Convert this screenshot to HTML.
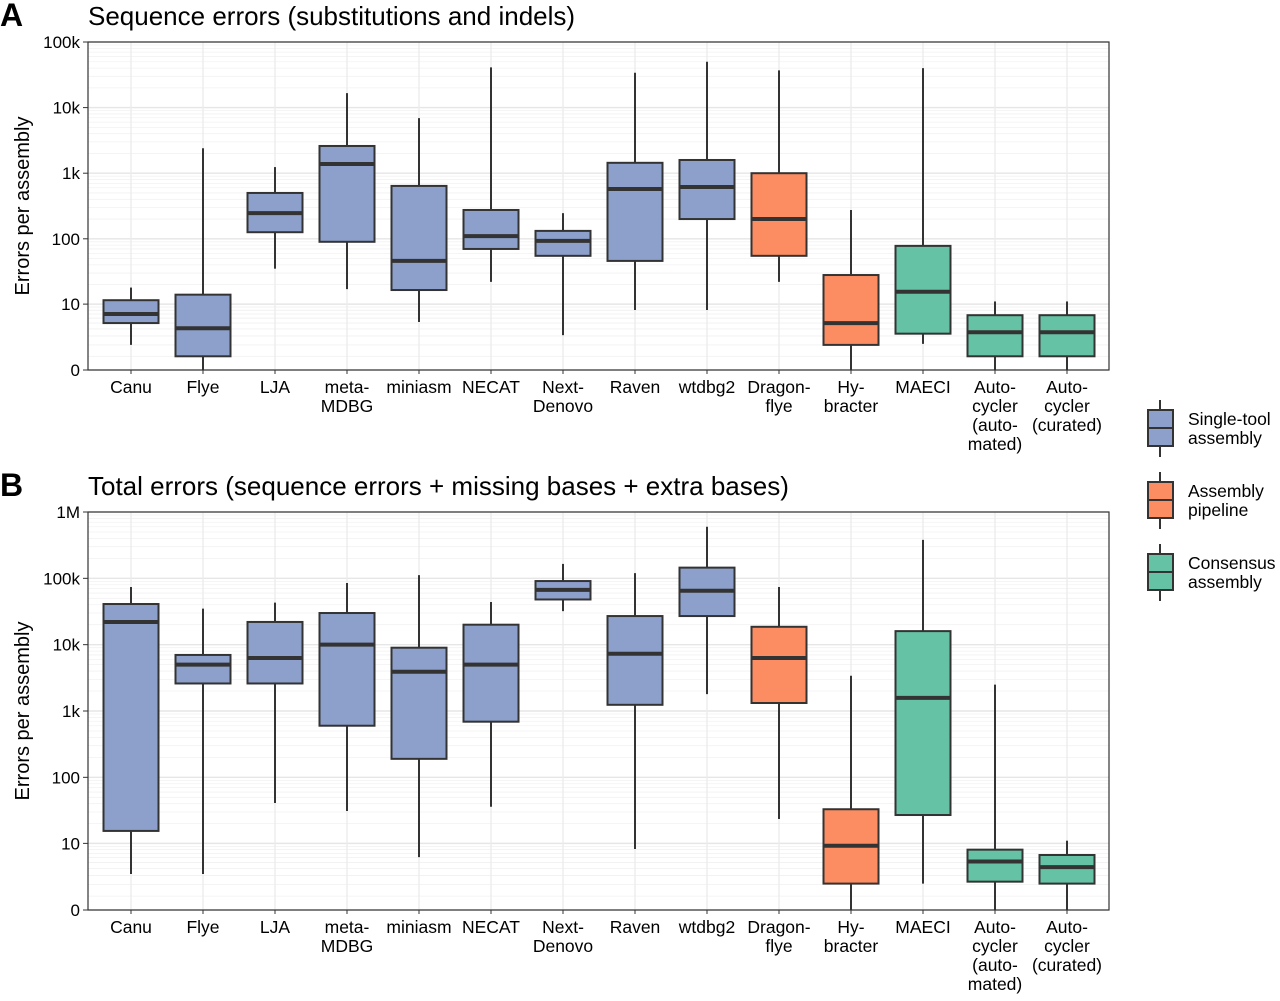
<!DOCTYPE html>
<html><head><meta charset="utf-8">
<style>
body{margin:0;background:#fff;}
svg text{font-family:"Liberation Sans",Arial,sans-serif;fill:#000;}
</style></head>
<body>
<svg id="chart" width="1280" height="996" viewBox="0 0 1280 996" xmlns="http://www.w3.org/2000/svg"></svg>
<script>
const categories=["Canu","Flye","LJA","meta-|MDBG","miniasm","NECAT","Next-|Denovo","Raven","wtdbg2","Dragon-|flye","Hy-|bracter","MAECI","Auto-|cycler|(auto-|mated)","Auto-|cycler|(curated)"];
const groups=[0,0,0,0,0,0,0,0,0,1,1,2,2,2];
const groupNames=["Single-tool|assembly","Assembly|pipeline","Consensus|assembly"];
const groupColors=["#8DA0CB","#FC8D62","#66C2A5"];
// [low whisker, q1, median, q3, high whisker]
const seqErrors=[
[2,5,7,11.5,18],[0,1,4.1,14,2400],[35,126,246,500,1240],[17,90,1380,2600,16600],
[5.2,16.5,46,640,6900],[22,70,110,275,41000],[3.1,55,93,132,246],[8.1,46,575,1440,34000],
[8.1,200,615,1590,50000],[22,55,200,1000,37000],[0,2,5,28,275],[2.1,3.3,15.5,78,40000],
[0,1,3.5,6.7,11],[0,1,3.5,6.7,11]];
const totErrors=[
[3.2,15.5,22000,41000,74000],[3.2,2600,5000,7000,35000],[41,2600,6300,22000,43000],[31,600,10000,30000,85000],
[6.1,190,3900,9000,112000],[36,690,5000,20000,44000],[32000,48000,67000,91000,165000],[8.2,1240,7300,27000,120000],
[1800,27000,65000,145000,600000],[23.5,1320,6300,18600,74000],[0,2.1,9.2,33,3400],[2.1,27,1580,16000,380000],
[0,2.3,5.2,8,2500],[0,2.1,4.2,6.6,11]];
const ticksA=[[0,"0"],[10,"10"],[100,"100"],[1000,"1k"],[10000,"10k"],[100000,"100k"]];
const ticksB=[[0,"0"],[10,"10"],[100,"100"],[1000,"1k"],[10000,"10k"],[100000,"100k"],[1000000,"1M"]];

const NS="http://www.w3.org/2000/svg";
const svg=document.getElementById('chart');
function mk(tag,attrs,parent){const e=document.createElementNS(NS,tag);for(const k in attrs)e.setAttribute(k,attrs[k]);(parent||svg).appendChild(e);return e;}
const tr=v=>Math.asinh(v/2)/Math.LN10;
const X0=88,X1=1109,STEP=72,FIRST=131,BW=55;
const xAt=i=>FIRST+i*STEP;

function panel(cfg){
  const g=mk('g',{});
  
  
  const y=v=>cfg.yb-(tr(v)/cfg.dmax)*(cfg.yb-cfg.yt);
  mk('rect',{x:X0,y:cfg.yt,width:X1-X0,height:cfg.yb-cfg.yt,fill:'#fff'},g);
  for(let k=0;k<cfg.dmax;k++){for(let m=2;m<=9;m++){const v=m*Math.pow(10,k);const yy=y(v);
    mk('line',{x1:X0,x2:X1,y1:yy,y2:yy,stroke:'#f2f2f2','stroke-width':0.8},g);}}
  for(let m=1;m<=9;m++){const yy=y(m);mk('line',{x1:X0,x2:X1,y1:yy,y2:yy,stroke:'#f2f2f2','stroke-width':0.8},g);}
  cfg.ticks.forEach(t=>{const yy=y(t[0]);
    const gl=mk('line',{x1:X0,x2:X1,y1:yy,y2:yy,stroke:'#e6e6e6','stroke-width':1.4},g);
    
    mk('line',{x1:X0-5,x2:X0,y1:yy,y2:yy,stroke:'#333','stroke-width':1},g);
    const tx=mk('text',{x:X0-8,y:yy+6,'text-anchor':'end','font-size':17},g);tx.textContent=t[1];
    });
  categories.forEach((c,i)=>{const xx=xAt(i);
    mk('line',{x1:xx,x2:xx,y1:cfg.yt,y2:cfg.yb,stroke:'#ececec','stroke-width':1.4},g);
    mk('line',{x1:xx,x2:xx,y1:cfg.yb,y2:cfg.yb+4,stroke:'#333','stroke-width':1},g);
    c.split('|').forEach((ln,j)=>{const tx=mk('text',{x:xx,y:cfg.yb+23+j*19,'text-anchor':'middle','font-size':17.5},g);tx.textContent=ln;
      });});
  cfg.data.forEach((d,i)=>{const xx=xAt(i);const col=groupColors[groups[i]];
    const bg=mk('g',{},g);
    mk('line',{x1:xx,x2:xx,y1:y(d[0]),y2:y(d[4]),stroke:'#333','stroke-width':2},bg);
    mk('rect',{x:xx-BW/2,y:y(d[3]),width:BW,height:y(d[1])-y(d[3]),fill:col,stroke:'#333','stroke-width':2},bg);
    mk('line',{x1:xx-BW/2,x2:xx+BW/2,y1:y(d[2]),y2:y(d[2]),stroke:'#333','stroke-width':4},bg);});
  mk('rect',{x:X0,y:cfg.yt,width:X1-X0,height:cfg.yb-cfg.yt,fill:'none',stroke:'#333','stroke-width':1.2},g);
  const t=mk('text',{x:88,y:cfg.yt-17,'font-size':26},g);t.textContent=cfg.title;
  const L=mk('text',{x:0,y:cfg.yt-16,'font-size':32,'font-weight':'bold'},g);L.textContent=cfg.letter;
  const yc=(cfg.yt+cfg.yb)/2;
  const ya=mk('text',{x:29,y:yc,'font-size':20,'text-anchor':'middle',transform:`rotate(-90 29 ${yc})`},g);ya.textContent='Errors per assembly';
  
}
panel({name:'panel-a-sequence-errors',yt:42,yb:370,dmax:5,ticks:ticksA,data:seqErrors,title:'Sequence errors (substitutions and indels)',letter:'A'});
panel({name:'panel-b-total-errors',yt:512,yb:910,dmax:6,ticks:ticksB,data:totErrors,title:'Total errors (sequence errors + missing bases + extra bases)',letter:'B'});

groupNames.forEach((n,i)=>{const top=400+i*72;
  const lg=mk('g',{});
  mk('line',{x1:1160,x2:1160,y1:top,y2:top+57,stroke:'#333','stroke-width':2},lg);
  mk('rect',{x:1148,y:top+10,width:25,height:36,fill:groupColors[i],stroke:'#333','stroke-width':2},lg);
  mk('line',{x1:1148,x2:1173,y1:top+28,y2:top+28,stroke:'#333','stroke-width':2},lg);
  n.split('|').forEach((ln,j)=>{const t=mk('text',{x:1188,y:top+25+j*19,'font-size':17.5},lg);t.textContent=ln;});
});
</script>
</body></html>
